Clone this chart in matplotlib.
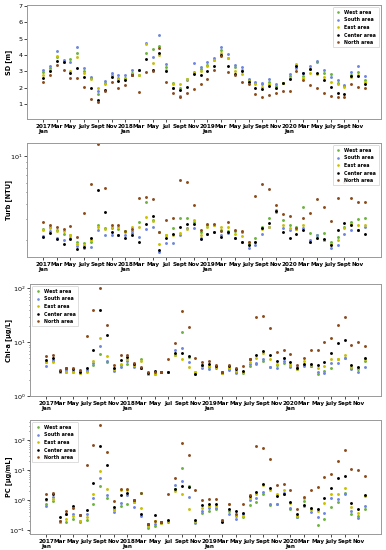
import numpy as np
import matplotlib
matplotlib.use("Agg")
import matplotlib.pyplot as plt
from matplotlib.ticker import NullFormatter

months = np.arange(48)
tick_pos = np.arange(0, 48, 2)
tick_labels = ["2017\nJan", "Mar", "May", "July", "Sept", "Nov",
               "2018\nJan", "Mar", "May", "Jul", "Sept", "Nov",
               "2019\nJan", "Mar", "May", "July", "Sept", "Nov",
               "2020\nJan", "Mar", "May", "July", "Sept", "Nov"]
areas = ["West area", "South area", "East area", "Center area", "North area"]
colors = ["#6cb33f", "#6f86e0", "#c9c000", "#000000", "#8b4a1c"]

sd_west = [2.95, 3.2, 3.9, 3.65, 3.75, 4.15, 3.0, 2.6, 1.6, 2.3, 2.8, 2.6,
           2.6, 2.9, 2.8, 4.15, 4.35, 4.55, 3.25, 2.3, 2.0, 2.5, 2.95, 3.15,
           3.4, 3.7, 4.3, 3.8, 3.25, 3.1, 2.45, 2.3, 2.2, 2.35, 2.1, 2.3,
           2.7, 3.35, 2.7, 3.15, 3.6, 2.9, 2.85, 2.3, 2.1, 2.8, 2.95, 2.45]
sd_south = [3.1, 3.3, 4.25, 3.7, 3.55, 4.5, 3.2, 2.65, 1.8, 2.4, 2.9, 2.8,
            2.75, 3.1, 3.05, 4.75, 3.85, 5.25, 3.45, 1.95, 1.5, 2.45, 3.5, 3.25,
            3.55, 3.8, 4.5, 4.05, 3.4, 3.25, 2.5, 2.35, 2.3, 2.55, 2.2, 2.3,
            2.85, 3.2, 2.9, 3.3, 3.65, 3.1, 2.65, 2.45, 2.15, 2.95, 3.3, 2.7]
sd_east = [2.8, 3.1, 3.95, 3.6, 3.0, 3.85, 2.9, 2.5, 1.95, 2.2, 2.7, 2.5,
           2.55, 2.85, 2.8, 4.7, 3.5, 4.0, 3.1, 2.2, 2.25, 2.5, 2.9, 3.0,
           3.35, 3.7, 4.1, 3.8, 3.0, 2.85, 2.4, 2.2, 2.05, 2.2, 2.0, 2.3,
           2.6, 3.45, 2.6, 2.9, 2.85, 2.65, 2.35, 2.25, 2.05, 2.65, 2.8, 2.35]
sd_center = [2.6, 3.0, 3.65, 3.6, 2.9, 3.2, 2.65, 2.0, 1.25, 1.85, 2.65, 2.4,
             2.45, 2.8, 3.1, 3.75, 3.05, 4.15, 3.0, 2.0, 1.85, 2.05, 2.85, 2.8,
             3.0, 3.3, 4.0, 3.35, 2.85, 3.0, 2.35, 2.0, 1.9, 2.1, 2.0, 2.3,
             2.5, 3.3, 2.9, 3.15, 2.9, 2.45, 2.05, 1.65, 1.6, 2.7, 2.7, 2.25]
sd_north = [2.35, 2.75, 3.4, 3.1, 2.6, 2.6, 2.05, 1.3, 1.15, 1.8, 2.35, 1.95,
            2.15, 2.75, 1.75, 2.95, 3.0, 4.45, 2.35, 1.7, 1.4, 1.65, 1.9, 2.25,
            2.5, 3.1, 3.95, 2.95, 2.75, 2.35, 2.25, 1.6, 1.4, 1.55, 1.65, 1.8,
            1.8, 3.0, 2.45, 2.15, 1.95, 1.65, 1.5, 1.4, 1.4, 2.2, 2.05, 1.95]

turb_west = [2.48, 2.6, 2.44, 2.25, 2.23, 1.95, 1.88, 1.95, 2.66, 2.52, 2.52, 2.5,
             2.37, 2.4, 2.83, 4.13, 2.95, 2.34, 2.23, 2.52, 3.06, 3.06, 2.86, 2.34,
             2.66, 2.66, 2.44, 2.37, 2.4, 2.34, 1.86, 2.1, 2.56, 3.09, 3.55, 2.95,
             2.66, 2.6, 3.79, 2.28, 2.23, 2.29, 1.95, 2.14, 2.6, 2.84, 3.0, 3.09]
turb_south = [2.18, 2.37, 2.1, 2.0, 2.1, 1.8, 1.72, 1.75, 2.44, 2.2, 2.2, 2.2,
              2.2, 2.29, 2.14, 2.5, 2.6, 1.6, 1.88, 1.88, 2.23, 2.52, 2.52, 2.09,
              2.26, 2.34, 2.23, 2.29, 2.07, 1.95, 1.72, 1.81, 2.26, 2.56, 3.45, 2.52,
              2.44, 2.5, 2.52, 2.0, 2.2, 2.0, 1.72, 1.83, 2.26, 2.44, 2.42, 2.56]
turb_east = [2.45, 2.52, 2.37, 2.37, 2.2, 1.86, 1.81, 2.0, 2.6, 2.5, 2.6, 2.56,
             2.34, 2.56, 2.6, 3.15, 2.9, 1.86, 2.2, 2.23, 2.29, 2.5, 2.95, 2.23,
             2.6, 2.66, 2.6, 2.56, 2.26, 2.15, 1.94, 1.94, 2.5, 2.6, 3.5, 2.66,
             2.52, 2.5, 2.66, 1.95, 2.1, 2.0, 1.86, 2.0, 2.52, 2.73, 2.66, 2.7]
turb_center = [2.14, 2.29, 2.03, 1.87, 2.05, 1.69, 1.77, 2.1, 5.2, 3.43, 2.34, 2.2,
               2.07, 2.23, 1.92, 2.74, 3.18, 1.67, 2.07, 2.26, 2.56, 2.73, 2.73, 2.03,
               2.26, 2.34, 2.14, 2.34, 2.07, 1.94, 1.81, 1.92, 2.52, 2.76, 3.47, 2.34,
               2.07, 2.26, 2.42, 1.95, 2.1, 2.05, 1.83, 2.44, 2.8, 2.66, 2.44, 2.26]
turb_north = [2.82, 2.66, 2.56, 2.5, 2.63, 2.14, 3.37, 5.87, 12.6, 5.4, 2.67, 2.66,
              2.37, 2.5, 4.49, 4.6, 4.4, 2.34, 2.92, 3.09, 6.34, 6.14, 3.9, 2.42,
              2.73, 2.73, 2.37, 2.84, 2.44, 2.37, 1.95, 4.63, 5.87, 5.32, 3.9, 3.31,
              3.18, 2.52, 3.06, 3.37, 4.4, 3.75, 2.88, 4.49, 6.14, 4.49, 4.2, 4.15]

chla_west = [4.3, 4.5, 2.8, 2.75, 2.75, 2.65, 2.9, 3.7, 6.0, 4.2, 3.2, 3.7,
             3.9, 3.75, 4.8, 2.6, 2.6, 2.75, 2.8, 5.7, 15.6, 5.2, 2.75, 3.7,
             3.5, 3.46, 2.65, 3.2, 2.8, 2.71, 3.6, 4.0, 4.47, 3.4, 3.77, 4.16,
             3.77, 3.2, 3.77, 3.6, 2.6, 2.91, 3.36, 4.8, 5.15, 3.36, 3.13, 4.47]
chla_south = [3.67, 4.6, 2.9, 3.0, 2.9, 2.8, 3.1, 4.1, 8.6, 4.5, 2.9, 3.4,
              4.5, 3.4, 3.3, 2.65, 2.75, 2.75, 2.85, 7.3, 7.9, 4.3, 2.6, 3.3,
              3.13, 3.36, 2.7, 3.0, 2.71, 2.83, 4.0, 4.16, 4.8, 3.46, 3.27, 4.47,
              3.46, 3.46, 3.6, 3.6, 2.83, 2.71, 4.16, 4.16, 5.0, 3.13, 2.83, 3.46]
chla_east = [4.3, 4.3, 2.85, 2.85, 2.85, 2.7, 2.85, 4.5, 11.8, 5.5, 3.2, 4.0,
             4.95, 3.75, 4.5, 2.6, 2.6, 2.75, 2.85, 5.9, 4.8, 3.4, 2.75, 3.6,
             3.6, 3.5, 2.7, 3.36, 2.9, 2.8, 4.35, 5.0, 6.2, 4.8, 4.0, 5.0,
             3.77, 3.13, 4.47, 3.8, 3.27, 3.6, 4.8, 4.8, 5.7, 3.5, 3.3, 4.8]
chla_center = [4.7, 5.1, 2.95, 3.3, 3.15, 2.8, 3.35, 7.2, 39, 13.8, 3.3, 4.6,
               5.3, 4.0, 3.35, 2.7, 2.95, 2.75, 2.85, 6.2, 6.3, 5.5, 2.6, 3.85,
               3.87, 3.6, 2.75, 3.6, 3.13, 2.91, 4.8, 5.8, 6.8, 5.9, 4.47, 5.15,
               4.3, 3.36, 4.0, 4.0, 3.77, 4.35, 6.2, 9.8, 11.0, 3.77, 3.46, 5.15]
chla_north = [5.46, 5.7, 3.0, 3.35, 3.35, 3.0, 12.8, 39, 100, 20.8, 3.8, 5.7,
              5.9, 4.1, 3.45, 2.75, 2.8, 2.75, 4.95, 9.5, 38, 19, 5.0, 4.3,
              4.47, 3.77, 2.8, 3.77, 3.27, 3.6, 4.9, 29.3, 31, 18.1, 6.5, 7.05,
              6.1, 3.77, 5.15, 7.05, 7.05, 10.1, 12.1, 20.6, 29.3, 8.8, 10.1, 8.5]

pc_west = [0.72, 0.95, 0.18, 0.19, 0.23, 0.19, 0.22, 0.72, 2.95, 1.14, 0.49, 0.65,
           0.75, 0.87, 1.7, 0.12, 0.14, 0.17, 0.2, 2.3, 11.5, 3.0, 0.2, 0.36,
           0.43, 0.49, 0.2, 0.43, 0.29, 0.26, 0.68, 0.88, 1.55, 0.7, 0.72, 1.55,
           0.49, 0.28, 0.93, 0.49, 0.15, 0.23, 0.58, 0.88, 1.76, 0.35, 0.3, 0.49]
pc_south = [0.63, 1.3, 0.2, 0.33, 0.35, 0.2, 0.33, 1.2, 5.6, 1.47, 0.4, 0.8,
            1.5, 0.6, 0.29, 0.14, 0.16, 0.19, 0.19, 3.2, 4.3, 1.3, 0.17, 0.43,
            0.53, 0.53, 0.2, 0.35, 0.23, 0.33, 0.98, 1.2, 1.9, 0.75, 0.75, 1.76,
            0.56, 0.26, 0.63, 0.41, 0.26, 0.38, 1.14, 1.05, 1.6, 0.43, 0.25, 0.63]
pc_east = [1.0, 1.1, 0.19, 0.24, 0.29, 0.2, 0.28, 1.63, 9.3, 2.3, 0.45, 2.2,
           2.2, 0.87, 0.53, 0.14, 0.2, 0.17, 0.2, 2.0, 1.55, 0.5, 0.2, 0.53,
           0.63, 0.63, 0.22, 0.72, 0.31, 0.3, 1.2, 1.55, 3.2, 2.1, 1.55, 2.1,
           0.82, 0.3, 1.14, 0.49, 0.43, 0.82, 1.55, 1.55, 2.6, 0.6, 0.38, 1.36]
pc_center = [1.1, 1.55, 0.26, 0.35, 0.63, 0.31, 0.45, 3.8, 62, 14.8, 0.59, 1.52,
             1.66, 1.02, 0.33, 0.16, 0.31, 0.19, 0.21, 2.3, 3.0, 2.7, 0.22, 0.68,
             0.75, 0.75, 0.19, 0.49, 0.43, 0.38, 1.36, 1.9, 3.35, 2.45, 1.36, 1.63,
             0.88, 0.35, 0.68, 0.56, 0.5, 1.14, 2.45, 5.6, 6.3, 0.82, 0.49, 1.48]
pc_north = [1.55, 1.7, 0.2, 0.43, 0.53, 0.31, 14.9, 70, 316, 41.6, 0.93, 2.3,
            2.3, 0.98, 1.76, 0.16, 0.2, 0.19, 1.55, 5.3, 79, 33, 2.2, 0.98,
            1.05, 1.1, 0.21, 0.72, 0.35, 0.72, 1.43, 64, 54, 23, 3.2, 3.35,
            2.1, 0.5, 1.26, 2.1, 2.75, 5.9, 7.6, 20, 46, 11.2, 10, 6.1]

panels = [
    ("SD [m]", [sd_west, sd_south, sd_east, sd_center, sd_north], False, (0.08, 7.06), "upper right"),
    ("Turb [NTU]", [turb_west, turb_south, turb_east, turb_center, turb_north], True, (1.45, 12.9), "upper right"),
    ("Chl-a [μg/L]", [chla_west, chla_south, chla_east, chla_center, chla_north], True, (1.0, 121), "upper left"),
    ("PC [μg/mL]", [pc_west, pc_south, pc_east, pc_center, pc_north], True, (0.073, 470), "upper left"),
]
# axes boxes in pixels: left, top, right, bottom
boxes = [(27, 5, 381, 119), (27, 143, 381, 257), (30, 284, 381, 396), (30, 420, 381, 534)]

W, H = 386, 550
fig = plt.figure(figsize=(W / 100, H / 100), dpi=100)

for (ylabel, series, logy, ylim, loc), (l, t, r, b) in zip(panels, boxes):
    ax = fig.add_axes([l / W, 1 - b / H, (r - l) / W, (b - t) / H])
    for vals, name, c in zip(series, areas, colors):
        ax.plot(months, vals, linestyle="none", marker="o", ms=2.1, mew=0,
                color=c, label=name)
    if logy:
        ax.set_yscale("log")
        ax.yaxis.set_minor_formatter(NullFormatter())
    ax.set_ylim(*ylim)
    ax.set_xticks(tick_pos)
    ax.set_xticklabels(tick_labels, fontsize=4.1, fontweight="bold", linespacing=0.95)
    ax.tick_params(axis="x", length=2, width=0.5, pad=1.5)
    ax.tick_params(axis="y", labelsize=4.6, length=2, width=0.5, pad=1.2)
    ax.tick_params(axis="y", which="minor", length=1, width=0.4)
    ax.set_ylabel(ylabel, fontsize=4.7, fontweight="bold")
    ax.yaxis.set_label_coords((12.5 - l) / (r - l), 0.5)
    for s in ax.spines.values():
        s.set_color("#999999")
        s.set_linewidth(0.7)
    leg = ax.legend(loc=loc, prop={"size": 3.4, "weight": "bold"},
                    markerscale=0.9, handletextpad=0.8, borderpad=0.5,
                    labelspacing=0.55, handlelength=1.2, framealpha=0.9)
    leg.get_frame().set_linewidth(0.5)

fig.savefig("out.png", dpi=100)
